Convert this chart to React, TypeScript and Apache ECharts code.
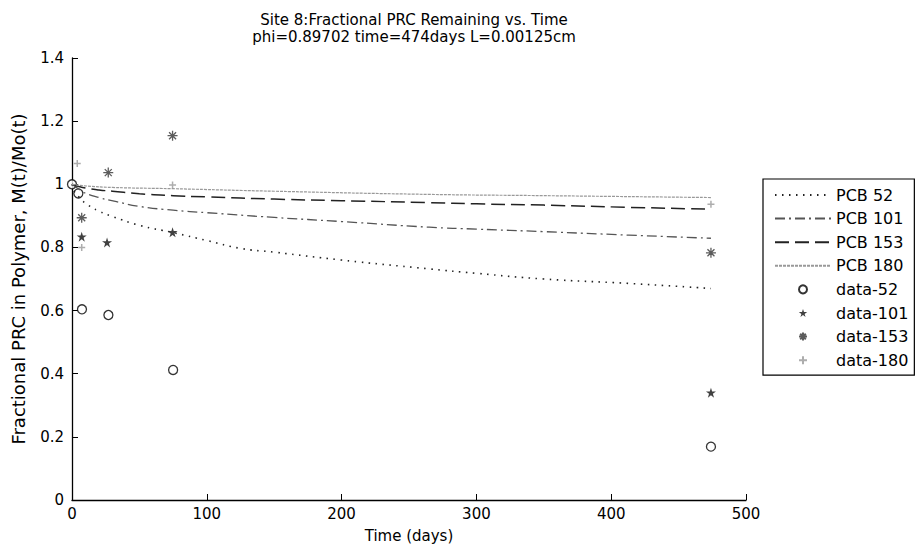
import React, { useEffect, useRef } from "react";
import * as echarts from "echarts";

const titleLines = ["Site 8:Fractional PRC Remaining vs. Time", "phi=0.89702 time=474days L=0.00125cm"];
const xTitle = "Time (days)";
const yTitle = "Fractional PRC in Polymer, M(t)/Mo(t)";

// model curves [days, fraction]
const pcb52: [number, number][] = [
  [0, 1.0], [2, 0.975], [5, 0.96], [10, 0.94], [20, 0.915], [30, 0.898], [50, 0.87], [75, 0.847],
  [100, 0.822], [125, 0.797], [150, 0.785], [200, 0.76], [265, 0.732], [300, 0.718], [350, 0.70],
  [413, 0.686], [474, 0.67],
];
const pcb101: [number, number][] = [
  [0, 1.0], [5, 0.985], [10, 0.972], [20, 0.958], [33, 0.945], [50, 0.93], [75, 0.918], [100, 0.91],
  [150, 0.895], [200, 0.882], [265, 0.864], [300, 0.858], [350, 0.85], [413, 0.839], [474, 0.829],
];
const pcb153: [number, number][] = [
  [0, 1.0], [5, 0.993], [10, 0.988], [20, 0.982], [30, 0.978], [50, 0.97], [75, 0.964], [100, 0.96],
  [150, 0.953], [200, 0.948], [265, 0.942], [300, 0.938], [350, 0.934], [413, 0.927], [474, 0.921],
];
const pcb180: [number, number][] = [
  [0, 1.0], [10, 0.995], [30, 0.99], [75, 0.986], [150, 0.978], [265, 0.968], [350, 0.964], [474, 0.958],
];

// measured data [days, fraction]
const data52: [number, number][] = [[0, 1.0], [4.7, 0.971], [7.4, 0.604], [27, 0.586], [75, 0.412], [474, 0.169]];
const data101: [number, number][] = [[7.2, 0.834], [26, 0.816], [74.6, 0.848], [474, 0.34]];
const data153: [number, number][] = [[7.2, 0.894], [26.9, 1.037], [74.6, 1.154], [474, 0.783]];
const data180: [number, number][] = [[3.9, 1.066], [7.2, 0.80], [74.6, 0.998], [474, 0.937]];

const legendNames = ["PCB 52", "PCB 101", "PCB 153", "PCB 180", "data-52", "data-101", "data-153", "data-180"];

const STAR = "path://M0,-1L0.2245,-0.309L0.951,-0.309L0.363,0.118L0.588,0.809L0,0.382L-0.588,0.809L-0.363,0.118L-0.951,-0.309L-0.2245,-0.309Z";
const ASTER = "path://M0,-1L0,1M-1,0L1,0M-0.7,-0.7L0.7,0.7M-0.7,0.7L0.7,-0.7";
const PLUS = "path://M0,-1L0,1M-1,0L1,0";

const FONT = "DejaVu Sans, sans-serif";

export default function App() {
  const ref = useRef<HTMLDivElement>(null);
  useEffect(() => {
    if (!ref.current) return;
    const chart = echarts.init(ref.current, undefined, { renderer: "svg" });
    const lineSeries = (name: string, data: [number, number][], color: string, width: number, type: any) => ({
      name, type: "line", data, symbol: "none", smooth: true,
      lineStyle: { color, width, type }, itemStyle: { color: "rgba(0,0,0,0)", borderWidth: 0 },
    });
    chart.setOption({
      animation: false,
      backgroundColor: "#fff",
      textStyle: { fontFamily: FONT },
      title: {
        text: titleLines.join("\n"),
        left: 409, top: 6, textAlign: "center",
        textStyle: { fontFamily: FONT, fontSize: 15, fontWeight: "normal", color: "#000", lineHeight: 17 },
      },
      grid: { left: 72, right: 169, top: 58, bottom: 54 },
      xAxis: {
        type: "value", min: 0, max: 500, interval: 100,
        name: xTitle, nameLocation: "middle", nameGap: 28,
        nameTextStyle: { fontFamily: FONT, fontSize: 15, color: "#000" },
        axisLine: { lineStyle: { color: "#000", width: 1.3 } },
        axisTick: { inside: true, length: 6, lineStyle: { color: "#000" } },
        axisLabel: { fontFamily: FONT, fontSize: 15, color: "#000", margin: 6 },
        splitLine: { show: false },
      },
      yAxis: {
        type: "value", min: 0, max: 1.4, interval: 0.2,
        name: yTitle, nameLocation: "middle", nameGap: 45,
        nameTextStyle: { fontFamily: FONT, fontSize: 18, color: "#000" },
        axisLine: { show: true, lineStyle: { color: "#000", width: 1.3 } },
        axisTick: { show: true, inside: true, length: 6, lineStyle: { color: "#000" } },
        axisLabel: { fontFamily: FONT, fontSize: 15, color: "#000", margin: 8 },
        splitLine: { show: false },
      },
      legend: {
        orient: "vertical", left: 763, top: 179,
        padding: [8, 6, 7, 11],
        itemWidth: 56, itemHeight: 8, itemGap: 7.6,
        borderColor: "#000", borderWidth: 1.2, backgroundColor: "#fff",
        textStyle: { fontFamily: FONT, fontSize: 16, color: "#000", lineHeight: 16 },
        data: legendNames,
      },
      series: [
        lineSeries("PCB 52", pcb52, "#222", 1.6, [1.5, 5.5]),
        lineSeries("PCB 101", pcb101, "#555", 1.3, [10, 4, 2, 4]),
        lineSeries("PCB 153", pcb153, "#222", 1.5, [14, 6]),
        lineSeries("PCB 180", pcb180, "#999", 1.2, [3, 1]),
        {
          name: "data-52", type: "scatter", data: data52, symbol: "circle", symbolSize: 9,
          itemStyle: { color: "#fff", borderColor: "#000", borderWidth: 1.3 },
        },
        {
          name: "data-101", type: "scatter", data: data101, symbol: STAR, symbolSize: 10,
          itemStyle: { color: "#111" },
        },
        {
          name: "data-153", type: "scatter", data: data153, symbol: ASTER, symbolSize: 10,
          itemStyle: { color: "none", borderColor: "#333", borderWidth: 1.3 },
        },
        {
          name: "data-180", type: "scatter", data: data180, symbol: PLUS, symbolSize: 7,
          itemStyle: { color: "none", borderColor: "#999", borderWidth: 1.5 },
        },
      ],
    });
    return () => chart.dispose();
  }, []);
  return <div ref={ref} style={{ width: 915, height: 554, position: "absolute", left: 0, top: 0 }} />;
}
